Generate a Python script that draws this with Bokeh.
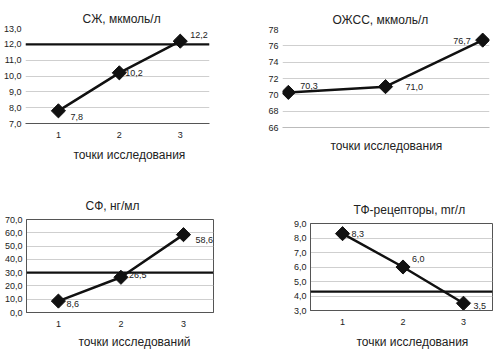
from bokeh.plotting import figure
from bokeh.layouts import column, row
from bokeh.models import FixedTicker, CustomJSTickFormatter, Title, Span, ColumnDataSource, Range1d
from bokeh.core.properties import value
from bokeh.embed import file_html
from bokeh.resources import INLINE
import math

FONT = "Liberation Sans"
TXT = "#222222"

points = [1, 2, 3]

sj_values = [7.8, 10.2, 12.2]
sj_labels = ["7,8", "10,2", "12,2"]
sj_norm = 12.0
sj_yrange = [7, 13]
sj_ystep = 1

ojss_values = [70.3, 71.0, 76.7]
ojss_labels = ["70,3", "71,0", "76,7"]
ojss_yrange = [66, 78]
ojss_ystep = 2

sf_values = [8.6, 26.5, 58.6]
sf_labels = ["8,6", "26,5", "58,6"]
sf_norm = 30.0
sf_yrange = [0, 70]
sf_ystep = 10

tf_values = [8.3, 6.0, 3.5]
tf_labels = ["8,3", "6,0", "3,5"]
tf_norm = 4.3
tf_yrange = [3, 9]
tf_ystep = 1

titles = ["СЖ, мкмоль/л", "ОЖСС, мкмоль/л", "СФ, нг/мл", "ТФ-рецепторы, mr/л"]
xlabels = ["точки исследования", "точки исследования", "точки исследований", "точки исследования"]


def panel(title, xlabel, values, labels, yr, ystep, xr, borders, title_off, xl_off,
          norm=None, show_xticks=True, decimals=1, outline=False, lab_offsets=None,
          lab_align=None, xl_standoff=6, title_standoff=6):
    bl, br, bt, bb = borders
    p = figure(width=250, height=177, output_backend="svg", toolbar_location=None,
               x_range=Range1d(*xr), y_range=Range1d(*yr),
               min_border_left=bl, min_border_right=br, min_border_top=bt,
               min_border_bottom=bb)
    p.title.text = title
    p.title.align = "left"
    p.title.offset = title_off
    p.title.text_font = FONT
    p.title.text_font_size = "12px"
    p.title.text_font_style = "normal"
    p.title.text_color = TXT
    p.title.standoff = title_standoff
    p.outline_line_color = "#555555" if outline else None
    p.background_fill_color = "white"
    p.border_fill_color = "white"

    ticks = []
    t = yr[0]
    while t <= yr[1] + 1e-9:
        ticks.append(t)
        t += ystep

    ya = p.yaxis[0]
    ya.ticker = FixedTicker(ticks=ticks)
    ya.formatter = CustomJSTickFormatter(
        code="return tick.toFixed(%d).replace('.', ',');" % decimals)
    ya.major_label_text_font = FONT
    ya.major_label_text_font_size = "9px"
    ya.major_label_text_color = TXT
    ya.major_tick_in = 0
    ya.major_tick_out = 0
    ya.minor_tick_line_color = None
    ya.major_label_standoff = 4
    ya.axis_line_color = "#555555" if outline else None

    xa = p.xaxis[0]
    xa.ticker = FixedTicker(ticks=points if show_xticks else [])
    xa.major_label_text_font = FONT
    xa.major_label_text_font_size = "9px"
    xa.major_label_text_color = TXT
    xa.major_tick_in = 0
    xa.major_tick_out = 0
    xa.minor_tick_line_color = None
    xa.major_label_standoff = 8
    xa.axis_line_color = "#555555" if show_xticks else "#bbbbbb"

    p.xgrid.grid_line_color = None
    p.ygrid.grid_line_color = "#cfcfcf"
    p.ygrid.grid_line_width = 1

    xt = Title(text=xlabel, align="left", offset=xl_off, text_font=FONT,
               text_font_size="12px", text_font_style="normal", text_color=TXT,
               standoff=xl_standoff)
    p.add_layout(xt, "below")

    if norm is not None:
        p.add_layout(Span(location=norm, dimension="width", line_color="#111111",
                          line_width=2.2))

    src = ColumnDataSource(dict(x=points, y=values, t=labels,
                                dx=[o[0] for o in lab_offsets],
                                dy=[o[1] for o in lab_offsets],
                                al=lab_align or ["left"] * 3))
    p.line("x", "y", source=src, line_color="#111111", line_width=2.5)
    p.scatter("x", "y", source=src, marker="square", size=10, angle=math.pi / 4,
              fill_color="#111111", line_color="#111111")
    p.text("x", "y", text="t", source=src, x_offset="dx", y_offset="dy",
           text_align="al", text_baseline="middle",
           text_font=value(FONT), text_font_size="9px", text_color=TXT)
    return p


p1 = panel(titles[0], xlabels[0], sj_values, sj_labels, sj_yrange, sj_ystep,
           (0.46, 3.48), (25, 41, 28, 54), 57, 48, norm=sj_norm,
           lab_offsets=[(12, 6), (6, 0), (10, -6)], xl_standoff=10, title_standoff=5)
p2 = panel(titles[1], xlabels[1], ojss_values, ojss_labels, ojss_yrange, ojss_ystep,
           (0.94, 3.07), (32, 11, 29, 50), 50, 48, show_xticks=False, decimals=0,
           lab_offsets=[(12, -6), (20, 0), (-12, 1)],
           lab_align=["left", "left", "right"], xl_standoff=18, title_standoff=6)
p3 = panel(titles[2], xlabels[2], sf_values, sf_labels, sf_yrange, sf_ystep,
           (0.49, 3.48), (26, 37, 42, 42), 59, 52, norm=sf_norm, outline=True,
           lab_offsets=[(8, 3), (8, -2), (12, 5)], xl_standoff=7, title_standoff=13)
p4 = panel(titles[3], xlabels[3], tf_values, tf_labels, tf_yrange, tf_ystep,
           (0.47, 3.48), (60, 8, 46, 40), 43, 46, norm=tf_norm, outline=True,
           lab_offsets=[(9, 0), (9, -8), (10, 3)], xl_standoff=11, title_standoff=13)

layout = column(row(column(p1), column(p2)), row(column(p3), column(p4)))
open("out.html", "w").write(file_html(layout, INLINE))
